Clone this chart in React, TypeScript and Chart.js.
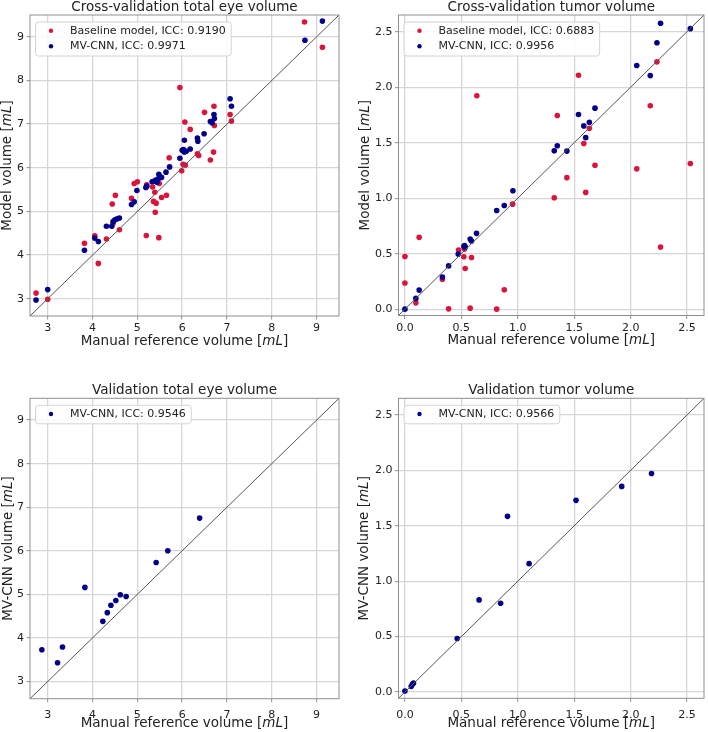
import React, { useEffect, useRef } from 'react';
import { Chart, registerables } from 'chart.js';

Chart.register(...registerables);

// ---------- DATA ----------
const eyeTicks = [3, 4, 5, 6, 7, 8, 9];
const tumorTicks = [0, 0.5, 1.0, 1.5, 2.0, 2.5];

const cvEyeBaselineX = [2.74, 3.0, 3.82, 4.05, 4.13, 4.31, 4.44, 4.46, 4.51, 4.6, 4.87, 4.93, 5.0, 5.2, 5.21, 5.34, 5.39, 5.36, 5.42, 5.4, 5.48, 5.49, 5.54, 5.65, 5.71, 5.95, 5.99, 6.02, 6.07, 6.06, 6.18, 6.34, 6.37, 6.5, 6.63, 6.7, 6.71, 6.72, 7.07, 7.1, 8.73, 9.13];
const cvEyeBaselineY = [3.13, 2.99, 4.27, 4.44, 3.81, 4.37, 5.17, 4.73, 5.37, 4.58, 5.3, 5.64, 5.68, 4.45, 5.61, 5.56, 5.44, 5.23, 5.19, 4.98, 4.4, 5.64, 5.32, 5.37, 6.23, 7.84, 5.93, 6.08, 6.06, 7.05, 6.88, 6.32, 6.28, 7.27, 6.18, 6.36, 7.41, 6.97, 7.22, 7.07, 9.34, 8.76];
const cvEyeMvcnnX = [2.74, 3.0, 3.82, 4.05, 4.13, 4.31, 4.43, 4.46, 4.5, 4.55, 4.6, 4.87, 4.93, 4.99, 5.19, 5.21, 5.33, 5.37, 5.41, 5.44, 5.48, 5.48, 5.54, 5.64, 5.72, 5.95, 6.0, 6.03, 6.05, 6.09, 6.05, 6.18, 6.34, 6.35, 6.49, 6.63, 6.67, 6.71, 6.72, 7.07, 7.1, 8.74, 9.13];
const cvEyeMvcnnY = [2.97, 3.21, 4.11, 4.39, 4.31, 4.66, 4.66, 4.77, 4.81, 4.83, 4.85, 5.16, 5.22, 5.48, 5.55, 5.58, 5.68, 5.69, 5.72, 5.67, 5.85, 5.76, 5.78, 5.9, 6.02, 6.22, 6.4, 6.42, 6.36, 6.38, 6.63, 6.43, 6.68, 6.61, 6.78, 7.06, 7.03, 7.22, 7.13, 7.58, 7.41, 8.92, 9.36];

const cvTumorBaselineX = [0, 0, 0.097, 0.126, 0.332, 0.387, 0.475, 0.522, 0.528, 0.534, 0.578, 0.59, 0.637, 0.813, 0.88, 0.954, 1.323, 1.35, 1.435, 1.538, 1.585, 1.602, 1.634, 1.684, 2.054, 2.174, 2.233, 2.265, 2.529];
const cvTumorBaselineY = [0.475, 0.236, 0.057, 0.647, 0.269, 0.003, 0.532, 0.472, 0.541, 0.366, 0.009, 0.466, 1.923, 0.0, 0.175, 0.946, 1.004, 1.744, 1.185, 2.107, 1.493, 1.052, 1.629, 1.297, 1.264, 1.832, 2.228, 0.559, 1.312];
const cvTumorMvcnnX = [0, 0.097, 0.126, 0.332, 0.387, 0.472, 0.522, 0.528, 0.534, 0.578, 0.59, 0.634, 0.813, 0.88, 0.957, 1.323, 1.35, 1.435, 1.538, 1.585, 1.602, 1.634, 1.684, 2.054, 2.174, 2.233, 2.265, 2.529];
const cvTumorMvcnnY = [0, 0.097, 0.172, 0.29, 0.39, 0.496, 0.565, 0.574, 0.559, 0.632, 0.614, 0.683, 0.889, 0.934, 1.067, 1.427, 1.472, 1.424, 1.753, 1.651, 1.545, 1.684, 1.811, 2.195, 2.104, 2.4, 2.576, 2.527];

const valEyeX = [2.87, 3.22, 3.33, 3.83, 4.23, 4.33, 4.41, 4.52, 4.62, 4.75, 5.42, 5.68, 6.39];
const valEyeY = [3.73, 3.43, 3.79, 5.16, 4.38, 4.58, 4.75, 4.86, 4.99, 4.95, 5.73, 6.0, 6.75];

const valTumorX = [0, 0.056, 0.067, 0.076, 0.463, 0.657, 0.848, 0.909, 1.1, 1.516, 1.921, 2.185];
const valTumorY = [0.009, 0.051, 0.069, 0.081, 0.483, 0.831, 0.801, 1.585, 1.158, 1.729, 1.855, 1.972];

const eyeLimits = [2.605, 9.5];
const tumorLimits = [-0.057, 2.65];

const titles = ['Cross-validation total eye volume', 'Cross-validation tumor volume', 'Validation total eye volume', 'Validation tumor volume'];
const xLabel = 'Manual reference volume [';
const yLabels = ['Model volume [', 'Model volume [', 'MV-CNN volume [', 'MV-CNN volume ['];
const baselineLabels = ['Baseline model, ICC: 0.9190', 'Baseline model, ICC: 0.6883'];
const mvcnnLabels = ['MV-CNN, ICC: 0.9971', 'MV-CNN, ICC: 0.9956', 'MV-CNN, ICC: 0.9546', 'MV-CNN, ICC: 0.9566'];

// ---------- STYLE ----------
const RED = '#DC143C';
const BLUE = '#00008B';
const TEXT = '#222222';
const GRID = '#d6d6d6';
const FRAME = '#8f8f8f';
const FONT = '"DejaVu Sans", "Liberation Sans", sans-serif';
const W = 354;
const H = 366;

const toPts = (xs: number[], ys: number[]) => xs.map((x, i) => ({ x, y: ys[i] }));

type Area = { l: number; t: number; r: number; b: number };
type PanelCfg = {
  left: number;
  top: number;
  area: Area;
  titleY: number;
  yLabelX: number;
  xTickPad: number;
  limits: number[];
  ticks: number[];
  decimals: number;
  title: string;
  yLabel: string;
  series: { label: string; color: string; x: number[]; y: number[] }[];
};

const panels: PanelCfg[] = [
  {
    left: 0, top: 0, area: { l: 30, t: 15, r: 339, b: 316 }, titleY: 7.5, yLabelX: 7.5, xTickPad: 2.5,
    limits: eyeLimits, ticks: eyeTicks, decimals: 0, title: titles[0], yLabel: yLabels[0],
    series: [
      { label: baselineLabels[0], color: RED, x: cvEyeBaselineX, y: cvEyeBaselineY },
      { label: mvcnnLabels[0], color: BLUE, x: cvEyeMvcnnX, y: cvEyeMvcnnY },
    ],
  },
  {
    left: 354, top: 0, area: { l: 44.5, t: 15, r: 351.5, b: 315.5 }, titleY: 7.5, yLabelX: 11, xTickPad: 2.5,
    limits: tumorLimits, ticks: tumorTicks, decimals: 1, title: titles[1], yLabel: yLabels[1],
    series: [
      { label: baselineLabels[1], color: RED, x: cvTumorBaselineX, y: cvTumorBaselineY },
      { label: mvcnnLabels[1], color: BLUE, x: cvTumorMvcnnX, y: cvTumorMvcnnY },
    ],
  },
  {
    left: 0, top: 366, area: { l: 30, t: 32.3, r: 339, b: 332.7 }, titleY: 24.3, yLabelX: 8.3, xTickPad: 6.5,
    limits: eyeLimits, ticks: eyeTicks, decimals: 0, title: titles[2], yLabel: yLabels[2],
    series: [{ label: mvcnnLabels[2], color: BLUE, x: valEyeX, y: valEyeY }],
  },
  {
    left: 354, top: 366, area: { l: 44.5, t: 32.3, r: 351.5, b: 332.3 }, titleY: 24.3, yLabelX: 10.5, xTickPad: 6.5,
    limits: tumorLimits, ticks: tumorTicks, decimals: 1, title: titles[3], yLabel: yLabels[3],
    series: [{ label: mvcnnLabels[3], color: BLUE, x: valTumorX, y: valTumorY }],
  },
];

function drawMixed(ctx: CanvasRenderingContext2D, prefix: string, cx: number, cy: number, size: number, rotate: boolean) {
  const parts = [
    { t: prefix, it: false },
    { t: 'mL', it: true },
    { t: ']', it: false },
  ];
  const fontOf = (it: boolean) => `${it ? 'italic ' : ''}${size}px ${FONT}`;
  ctx.save();
  ctx.translate(cx, cy);
  if (rotate) ctx.rotate(-Math.PI / 2);
  const widths = parts.map((p) => {
    ctx.font = fontOf(p.it);
    return ctx.measureText(p.t).width;
  });
  const total = widths.reduce((a, b) => a + b, 0);
  let x = -total / 2;
  ctx.textBaseline = 'middle';
  ctx.textAlign = 'left';
  ctx.fillStyle = TEXT;
  parts.forEach((p, i) => {
    ctx.font = fontOf(p.it);
    ctx.fillText(p.t, x, 0);
    x += widths[i];
  });
  ctx.restore();
}

function PanelChart({ cfg }: { cfg: PanelCfg }) {
  const ref = useRef<HTMLCanvasElement | null>(null);
  useEffect(() => {
    if (!ref.current) return;
    const [lo, hi] = cfg.limits;
    const decor = {
      id: 'decor' + cfg.title,
      afterDraw(chart: any) {
        const ctx: CanvasRenderingContext2D = chart.ctx;
        const a = chart.chartArea;
        ctx.save();
        ctx.strokeStyle = FRAME;
        ctx.lineWidth = 1;
        ctx.strokeRect(a.left, a.top, a.right - a.left, a.bottom - a.top);
        ctx.fillStyle = TEXT;
        ctx.font = `13.5px ${FONT}`;
        ctx.textAlign = 'center';
        ctx.textBaseline = 'middle';
        ctx.fillText(cfg.title, (a.left + a.right) / 2, cfg.titleY);
        ctx.restore();
        drawMixed(ctx, xLabel, (a.left + a.right) / 2, a.bottom + 25, 13.5, false);
        drawMixed(ctx, cfg.yLabel, cfg.yLabelX, (a.top + a.bottom) / 2, 13.5, true);
        ctx.save();
        ctx.font = `11px ${FONT}`;
        const n = cfg.series.length;
        const tw = Math.max(...cfg.series.map((s) => ctx.measureText(s.label).width));
        const bx = a.left + 5;
        const by = a.top + 6.5;
        const bw = 35 + tw + 5;
        const bh = 18.5 + 15.5 * (n - 1);
        ctx.beginPath();
        (ctx as any).roundRect(bx + 0.5, by + 0.5, bw, bh, 3);
        ctx.fillStyle = 'rgba(255,255,255,0.85)';
        ctx.fill();
        ctx.strokeStyle = '#d4d4d4';
        ctx.lineWidth = 1;
        ctx.stroke();
        cfg.series.forEach((s, i) => {
          const cy = by + 9.25 + 15.5 * i;
          ctx.beginPath();
          ctx.arc(bx + 16, cy, 2.2, 0, Math.PI * 2);
          ctx.fillStyle = s.color;
          ctx.fill();
          ctx.fillStyle = TEXT;
          ctx.textAlign = 'left';
          ctx.textBaseline = 'middle';
          ctx.fillText(s.label, bx + 35, cy);
        });
        ctx.restore();
      },
    };
    const datasets: any[] = [
      {
        data: [{ x: lo, y: lo }, { x: hi, y: hi }],
        showLine: true,
        borderColor: '#555555',
        borderWidth: 1,
        pointRadius: 0,
        fill: false,
      },
    ];
    [...cfg.series].reverse().forEach((s) => {
      datasets.push({
        label: s.label,
        data: toPts(s.x, s.y),
        pointRadius: 2.8,
        pointBackgroundColor: s.color,
        backgroundColor: s.color,
        pointBorderWidth: 0,
        borderWidth: 0,
        showLine: false,
      });
    });
    const tickFont = { family: FONT, size: 11 };
    const fmt = (v: any) => Number(v).toFixed(cfg.decimals);
    const chart = new Chart(ref.current, {
      type: 'scatter',
      data: { datasets },
      plugins: [decor],
      options: {
        responsive: false,
        maintainAspectRatio: false,
        animation: false,
        events: [],
        layout: { padding: { top: cfg.area.t, right: W - cfg.area.r, bottom: 0, left: 0 } },
        plugins: { legend: { display: false }, title: { display: false }, tooltip: { enabled: false } },
        scales: {
          x: {
            type: 'linear',
            min: lo,
            max: hi,
            afterFit: (s: any) => { s.height = H - cfg.area.b; },
            afterBuildTicks: (s: any) => { s.ticks = cfg.ticks.map((v) => ({ value: v })); },
            ticks: { font: tickFont, color: TEXT, padding: cfg.xTickPad, autoSkip: false, maxRotation: 0, callback: fmt },
            grid: { color: GRID, lineWidth: 1.3, tickColor: FRAME, tickLength: 3.5, tickWidth: 1 },
            border: { display: false },
          },
          y: {
            type: 'linear',
            min: lo,
            max: hi,
            afterFit: (s: any) => { s.width = cfg.area.l; },
            afterBuildTicks: (s: any) => { s.ticks = cfg.ticks.map((v) => ({ value: v })); },
            ticks: { font: tickFont, color: TEXT, padding: 2.5, autoSkip: false, callback: fmt },
            grid: { color: GRID, lineWidth: 1.3, tickColor: FRAME, tickLength: 3.5, tickWidth: 1 },
            border: { display: false },
          },
        },
      } as any,
    });
    return () => chart.destroy();
  }, [cfg]);
  return (
    <canvas
      ref={ref}
      width={W}
      height={H}
      style={{ position: 'absolute', left: cfg.left, top: cfg.top, width: W, height: H }}
    />
  );
}

export default function App() {
  return (
    <div style={{ position: 'absolute', left: 0, top: 0, width: 708, height: 732, background: '#ffffff' }}>
      {panels.map((p, i) => (
        <PanelChart key={i} cfg={p} />
      ))}
    </div>
  );
}
